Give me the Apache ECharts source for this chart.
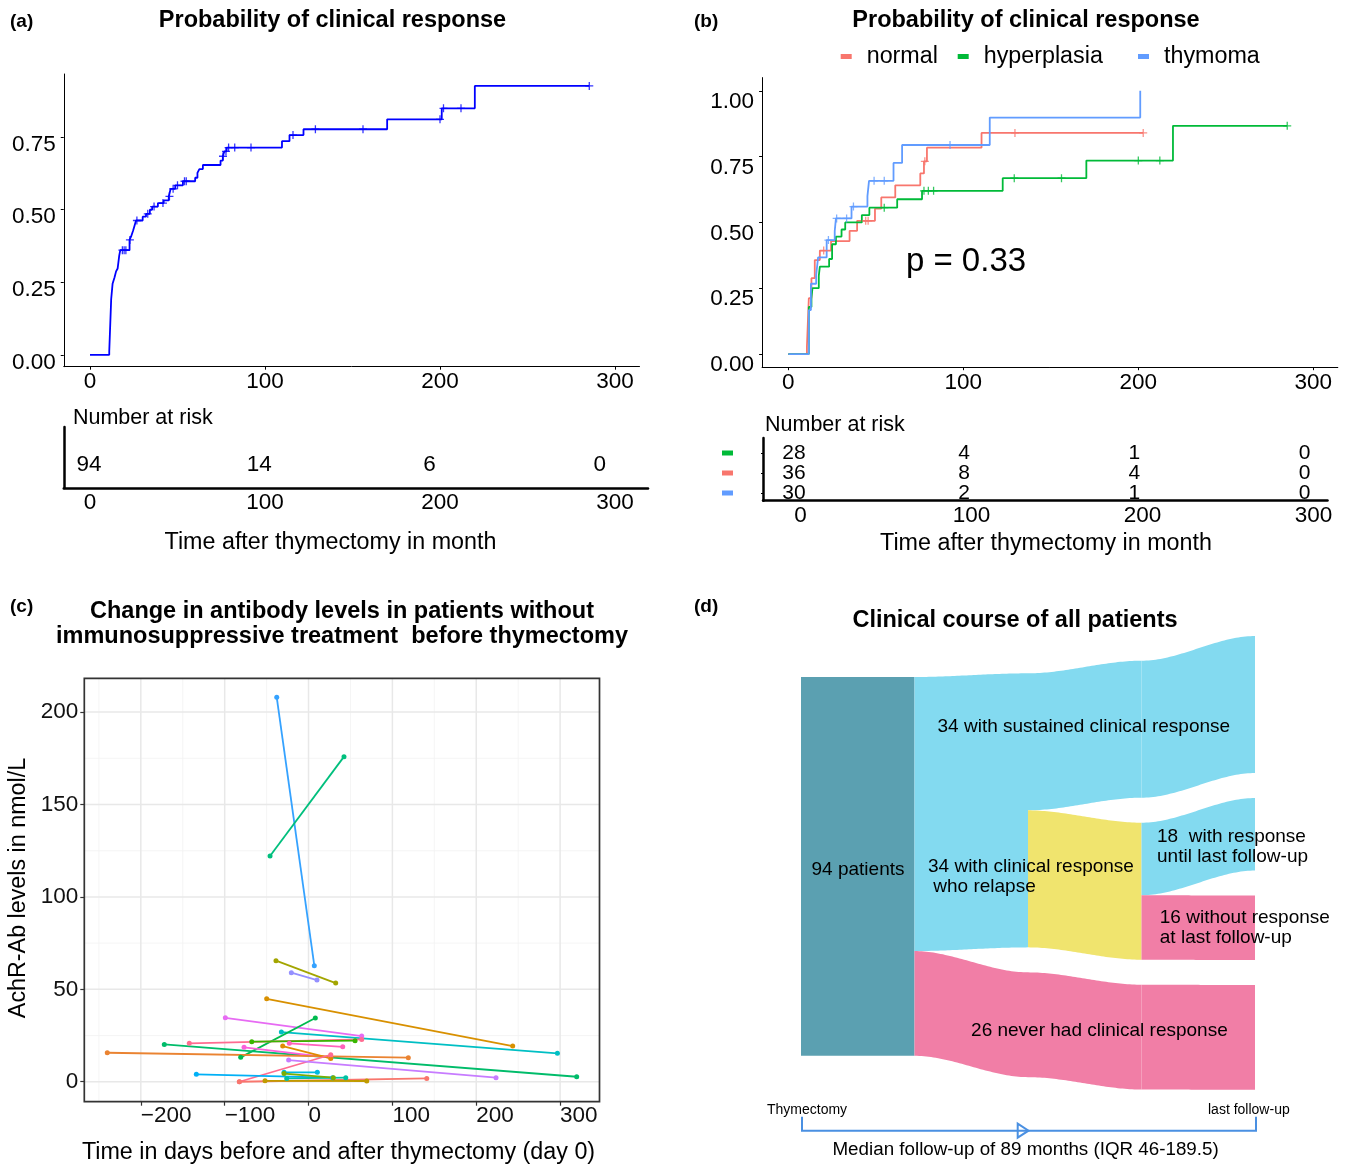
<!DOCTYPE html>
<html><head><meta charset="utf-8">
<script src="https://cdn.jsdelivr.net/npm/echarts@6/dist/echarts.min.js"></script>
<style>html,body{margin:0;padding:0;background:#fff}#c{width:1345px;height:1166px}</style>
</head><body><div id="c"></div>
<script>
// ===================== DATA =====================
// (a) overall Kaplan-Meier curve (time in months, probability of clinical response)
const timeA = [0, 11.0, 12.1, 12.9, 14.0, 14.9, 15.8, 16.7, 17.3, 22.6, 23.5, 24.6, 25.2, 26.3, 30.1, 32.0, 34.2, 35.5, 38.8, 42.1, 45.0, 46.1, 48.7, 53.1, 60.1, 61.4, 62.5, 64.5, 74.6, 75.9, 76.8, 78.1, 109.7, 114.0, 122.0, 169.8, 201.0, 219.9, 285.3];
const survA = [0, 0.011, 0.191, 0.244, 0.266, 0.287, 0.297, 0.341, 0.360, 0.395, 0.407, 0.427, 0.439, 0.462, 0.475, 0.485, 0.499, 0.510, 0.522, 0.531, 0.545, 0.571, 0.583, 0.597, 0.609, 0.626, 0.639, 0.653, 0.668, 0.683, 0.700, 0.713, 0.735, 0.756, 0.776, 0.810, 0.848, 0.925, 0.925];
const censorA = [18.5, 19.5, 20.5, 22.8, 26.8, 33.0, 36.6, 41.7, 45.4, 47.5, 50.0, 54.0, 55.0, 76.0, 77.7, 79.2, 82.7, 92.0, 116.0, 128.8, 156.0, 200.0, 202.0, 212.0, 285.3];
const riskTimes = [0, 100, 200, 300];
const riskA = [94, 14, 6, 0];

// (b) by thymus histology
const groupsB = ['normal', 'hyperplasia', 'thymoma'];
const timeN = [0, 10.6, 11.7, 13.2, 15.1, 18.0, 24.4, 35.0, 39.3, 49.5, 53.1, 61.1, 75.4, 77.5, 79.2, 110.4, 202.8];
const survN = [0, 0.028, 0.212, 0.288, 0.357, 0.393, 0.429, 0.468, 0.506, 0.552, 0.595, 0.641, 0.686, 0.732, 0.784, 0.840, 0.840];
const censorN = [20.2, 44.2, 45.6, 78.0, 129.5, 202.8];
const timeH = [0, 11.7, 13.2, 13.8, 17.4, 18.0, 23.3, 25.0, 27.2, 30.4, 32.5, 42.0, 46.3, 62.2, 76.4, 122.5, 170.3, 219.8, 285.1];
const survH = [0, 0.179, 0.214, 0.250, 0.297, 0.332, 0.361, 0.417, 0.446, 0.473, 0.500, 0.528, 0.556, 0.588, 0.620, 0.668, 0.735, 0.867, 0.867];
const censorH = [54.8, 77.5, 80.0, 83.0, 129.1, 156.1, 200.0, 212.3, 285.1];
const timeT = [0, 11.7, 12.9, 15.9, 17.0, 21.9, 26.5, 27.2, 36.1, 45.2, 46.1, 60.1, 65.0, 115.1, 201.1];
const survT = [0, 0.167, 0.267, 0.300, 0.367, 0.433, 0.467, 0.515, 0.560, 0.600, 0.658, 0.726, 0.794, 0.898, 1.000];
const censorT = [22.9, 27.6, 33.3, 37.2, 49.0, 54.8, 92.4];
const riskHyper = [28, 4, 1, 0];
const riskNormal = [36, 8, 4, 0];
const riskThym = [30, 2, 1, 0];
const pValueText = 'p = 0.33';

// (c) antibody levels before / after thymectomy (one pair per patient)
const abDayBefore   = [-37.9, -45.9, -38.8, -20.5, -49.9, -99.2, -32.4, -80.9, -172.0, -142.2, -67.7, -22.9, -76.9, -240.0, -30.8, -82.5, -23.7, -133.8, -29.2, -26.0, -82.5, -51.9, -29.2];
const abLevelBefore = [208.0, 122.1, 65.5, 59.0, 44.9, 34.6, 26.9, 13.2, 20.2, 20.8, 21.7, 20.8, 18.6, 15.7, 19.3, 0.0, 11.7, 4.0, 5.1, 1.8, 0.0, 0.5, 4.4];
const abDayAfter    = [6.9, 42.3, 32.4, 10.1, 243.5, 63.4, 296.8, 8.1, 319.8, 63.4, 55.5, 40.8, 26.5, 119.0, 26.5, 26.5, 223.6, 28.8, 10.5, 44.4, 141.0, 69.4, 29.6];
const abLevelAfter  = [62.8, 175.9, 53.4, 55.0, 19.3, 24.7, 15.4, 34.5, 2.7, 22.9, 22.2, 18.9, 13.0, 13.0, 12.6, 14.6, 2.2, 2.2, 5.1, 2.2, 1.8, 0.4, 2.2];

// (d) clinical course
const sankeyTotal = 94;
const leafCounts = [34, 18, 16, 26];
const stageGapAfter = [[0,0,0],[0,0,1],[1,0,1],[1,1,1]];
const flowKinds = [['resp','resp','resp','none'],['resp','relapse','relapse','none'],['resp','resp','none','none']];

// tick values
const xTicksKM = [0, 100, 200, 300];
const yTicksA = [0, 0.25, 0.5, 0.75];
const yTicksB = [0, 0.25, 0.5, 0.75, 1];
const xTicksC = [-200, -100, 0, 100, 200, 300];
const xMinorC = [-250, -150, -50, 50, 150, 250];
const yTicksC = [0, 50, 100, 150, 200];
const yMinorC = [25, 75, 125, 175];

// ===================== STYLE / LAYOUT =====================
const F = '"Liberation Sans", Arial, Helvetica, sans-serif';
const colB = {normal: '#F8766D', hyperplasia: '#00BA38', thymoma: '#619CFF'};
const abColors = ['#35A2FF','#00BF7D','#A3A500','#9590FF','#D89000','#E76BF3','#00BFC4','#00BB4E','#00BC6A','#FF6C91','#39B600','#FF62BC','#FA62DB','#EA8331','#E08B00','#FF6C91','#C77CFF','#00B0F6','#00BAE0','#00C1A3','#F8766D','#C09B00','#7CAE00'];
const sankeyColors = {start: '#5BA0B1', resp: '#83DAF0', relapse: '#F0E46E', none: '#F17EA6'};
const sankeyLayout = {stageX: [1, 2, 3, 4], stageTop: [10.17, 9.26, 6.13, 0], gap: 6.2};
const PLUS = 'path://M0,4.2H10V5.8H0Z M4.2,0H5.8V10H4.2Z';
const cXExt = [-267.4, 347], cYExt = [-10.8, 218.3];
const yExtA = [-0.041, 0.966], yExtB = [-0.05, 1.05];
// tick labels of (a)/(b) sit slightly below their ticks in the reference (value-unit shift)
const labelShiftA = 0.026, labelShiftB = 0.042;

function stepAt(times, surv, t) { let v = surv[0]; for (let i = 0; i < times.length; i++) if (times[i] <= t) v = surv[i]; return v; }

// ---- sankey geometry in (stage, patient) units
const stageIntervals = sankeyLayout.stageTop.map((top, s) => {
  let y = top; const iv = [];
  leafCounts.forEach((n, i) => { iv.push([y, y + n]); y += n + (i < leafCounts.length - 1 && stageGapAfter[s][i] ? sankeyLayout.gap : 0); });
  return iv;
});
const ribbons = [{kind: 'rect', x0: 0, x1: 1, top0: stageIntervals[0][0][0], bot0: stageIntervals[0][3][1], color: sankeyColors.start}];
for (let s = 0; s < 3; s++) {
  let i = 0;
  while (i < leafCounts.length) {
    let j = i;
    while (j + 1 < leafCounts.length && flowKinds[s][j + 1] === flowKinds[s][i] && !stageGapAfter[s][j] && !stageGapAfter[s + 1][j]) j++;
    ribbons.push({kind: 'flow', x0: sankeyLayout.stageX[s], x1: sankeyLayout.stageX[s + 1],
      top0: stageIntervals[s][i][0], bot0: stageIntervals[s][j][1],
      top1: stageIntervals[s + 1][i][0], bot1: stageIntervals[s + 1][j][1], color: sankeyColors[flowKinds[s][i]]});
    i = j + 1;
  }
}
const sankeyYMax = sankeyTotal + 3 * sankeyLayout.gap;

function renderRibbon(params, api) {
  const r = ribbons[params.dataIndex];
  if (r.kind === 'rect') {
    const p0 = api.coord([r.x0, r.top0]), p1 = api.coord([r.x1, r.bot0]);
    return {type: 'rect', shape: {x: p0[0], y: p0[1], width: p1[0] - p0[0], height: p1[1] - p0[1]}, style: {fill: r.color}};
  }
  const N = 48, pts = [];
  for (let k = 0; k <= N; k++) { const t = k / N, e = t * t * (3 - 2 * t); pts.push(api.coord([r.x0 + (r.x1 - r.x0) * t, r.top0 + (r.top1 - r.top0) * e])); }
  for (let k = N; k >= 0; k--) { const t = k / N, e = t * t * (3 - 2 * t); pts.push(api.coord([r.x0 + (r.x1 - r.x0) * t, r.bot0 + (r.bot1 - r.bot0) * e])); }
  return {type: 'polygon', shape: {points: pts}, style: {fill: r.color}};
}

// ---- helpers
function txt(text, x, y, size, o) {
  o = o || {};
  const st = {text: text, fontSize: size, fontFamily: F, fontWeight: o.bold ? 'bold' : 'normal', fill: o.color || '#000',
    align: o.align || 'center', verticalAlign: 'middle'};
  if (o.lh) st.lineHeight = o.lh;
  return {type: 'text', x: x, y: y, rotation: o.rot || 0, z: 100, silent: true, style: st};
}
const axLine = (w) => ({show: true, onZero: false, lineStyle: {color: '#000', width: w}});
const tickLbl = (vals, margin, extra) => Object.assign({customValues: vals, fontSize: 22.5, fontFamily: F, color: '#000', margin: margin}, extra || {});

function kmLine(name, times, surv, color, xi, yi) {
  return {name: name, type: 'line', xAxisIndex: xi, yAxisIndex: yi, step: 'end', symbol: 'none', showSymbol: false,
    data: times.map((t, i) => [t, surv[i]]), lineStyle: {color: color, width: 1.8}, itemStyle: {color: color}, z: 3};
}
function censorSeries(name, times, surv, cens, color, xi, yi) {
  return {name: name, type: 'scatter', xAxisIndex: xi, yAxisIndex: yi, symbol: PLUS, symbolSize: 8,
    data: cens.map(t => [t, stepAt(times, surv, t)]), itemStyle: {color: color}, z: 4};
}
function riskSeries(xi, yi, row, counts, size) {
  return {type: 'scatter', xAxisIndex: xi, yAxisIndex: yi, symbolSize: 0.001, itemStyle: {color: '#000', opacity: 1},
    label: {show: true, position: 'inside', formatter: p => String(p.value[2]), fontSize: size, fontFamily: F,
      color: '#000', textBorderWidth: 0, textBorderColor: 'transparent', opacity: 1},
    data: riskTimes.map((t, i) => [t, row, counts[i]])};
}
function gridLineSeries(values, dir, color, width) {
  return {type: 'custom', xAxisIndex: 6, yAxisIndex: 4, silent: true, z: 1, clip: false,
    data: values.map(v => (dir === 'x' ? [v, 0] : [0, v])),
    renderItem: (params, api) => {
      const v = values[params.dataIndex];
      const p0 = dir === 'x' ? api.coord([v, cYExt[0]]) : api.coord([cXExt[0], v]);
      const p1 = dir === 'x' ? api.coord([v, cYExt[1]]) : api.coord([cXExt[1], v]);
      return {type: 'line', shape: {x1: p0[0], y1: p0[1], x2: p1[0], y2: p1[1]}, style: {stroke: color, lineWidth: width}};
    }};
}

// ===================== OPTION =====================
const series = [];
series.push(gridLineSeries(xMinorC, 'x', '#F2F2F2', 0.8));
series.push(gridLineSeries(yMinorC, 'y', '#F2F2F2', 0.8));
series.push(gridLineSeries(xTicksC, 'x', '#E8E8E8', 1.5));
series.push(gridLineSeries(yTicksC, 'y', '#E8E8E8', 1.5));

series.push(kmLine('all', timeA, survA, '#0000FF', 0, 0));
series.push(censorSeries('all-c', timeA, survA, censorA, '#0000FF', 0, 0));
series.push(riskSeries(2, 1, 1, riskA, 22.5));

const bData = {normal: [timeN, survN, censorN], hyperplasia: [timeH, survH, censorH], thymoma: [timeT, survT, censorT]};
groupsB.forEach(g => {
  series.push(kmLine(g, bData[g][0], bData[g][1], colB[g], 3, 2));
  series.push(censorSeries(g + '-c', bData[g][0], bData[g][1], bData[g][2], colB[g], 3, 2));
});
series.push(riskSeries(5, 3, 3, riskHyper, 21));
series.push(riskSeries(5, 3, 2, riskNormal, 21));
series.push(riskSeries(5, 3, 1, riskThym, 21));

abDayBefore.forEach((d, i) => {
  series.push({type: 'line', xAxisIndex: 6, yAxisIndex: 4, symbol: 'circle', symbolSize: 5, showSymbol: true,
    data: [[d, abLevelBefore[i]], [abDayAfter[i], abLevelAfter[i]]],
    lineStyle: {color: abColors[i], width: 1.8}, itemStyle: {color: abColors[i]}, z: 3});
});

series.push({type: 'custom', xAxisIndex: 7, yAxisIndex: 5, renderItem: renderRibbon, clip: false,
  data: ribbons.map((r, i) => [r.x0, r.top0, i]), silent: true, z: 2});

const option = {
  animation: false,
  backgroundColor: '#fff',
  textStyle: {fontFamily: F},
  grid: [
    {left: 63.75, top: 74, width: 575.75, height: 292.7},
    {left: 63.75, top: 427, width: 584.25, height: 61},
    {left: 762.1, top: 77.6, width: 575.7, height: 289.6},
    {left: 763, top: 438, width: 564.5, height: 62.7},
    {left: 84.3, top: 678.3, width: 515.2, height: 423.4, show: true, borderColor: '#333', borderWidth: 1.7, backgroundColor: 'rgba(0,0,0,0)', z: 5},
    {left: 801, top: 636, width: 454, height: 453.8}
  ],
  xAxis: [
    {gridIndex: 0, type: 'value', min: -15, max: 314, axisLine: axLine(1), axisTick: {show: true, customValues: xTicksKM, length: 3, lineStyle: {color: '#000'}}, axisLabel: tickLbl(xTicksKM, 4), splitLine: {show: false}},
    {gridIndex: 1, type: 'value', min: -15, max: 318.9, axisLine: axLine(2.5), axisTick: {show: false, customValues: xTicksKM}, axisLabel: tickLbl(xTicksKM, 3), splitLine: {show: false}},
    {gridIndex: 1, type: 'value', min: -14.8, max: 328.4, show: false},
    {gridIndex: 2, type: 'value', min: -15, max: 314, axisLine: axLine(1), axisTick: {show: true, customValues: xTicksKM, length: 3, lineStyle: {color: '#000'}}, axisLabel: tickLbl(xTicksKM, 4), splitLine: {show: false}},
    {gridIndex: 3, type: 'value', min: -21.9, max: 308.2, axisLine: axLine(2.5), axisTick: {show: false, customValues: xTicksKM}, axisLabel: tickLbl(xTicksKM, 4), splitLine: {show: false}},
    {gridIndex: 3, type: 'value', min: -18.2, max: 313.5, show: false},
    {gridIndex: 4, type: 'value', min: cXExt[0], max: cXExt[1], axisLine: {show: false, onZero: false},
      axisTick: {show: true, customValues: xTicksC, length: 4, lineStyle: {color: '#333', width: 1.2}},
      axisLabel: tickLbl(xTicksC, 3, {align: 'left', color: '#111', formatter: v => (v < 0 ? '\u2212' + Math.abs(v) : String(v))}),
      splitLine: {show: false}},
    {gridIndex: 5, type: 'value', min: 0, max: 4, show: false}
  ],
  yAxis: [
    {gridIndex: 0, type: 'value', min: yExtA[0], max: yExtA[1], axisLine: axLine(1), axisTick: {show: true, customValues: yTicksA, length: 3, lineStyle: {color: '#000'}},
      axisLabel: {show: false, customValues: yTicksA}, splitLine: {show: false}},
    {gridIndex: 1, type: 'value', min: -0.15, max: 2.9, axisLine: axLine(2.5), axisTick: {show: false}, axisLabel: {show: false}, splitLine: {show: false}},
    {gridIndex: 2, type: 'value', min: yExtB[0], max: yExtB[1], axisLine: axLine(1), axisTick: {show: true, customValues: yTicksB, length: 3, lineStyle: {color: '#000'}},
      axisLabel: {show: false, customValues: yTicksB}, splitLine: {show: false}},
    {gridIndex: 3, type: 'value', min: 0.615, max: 3.75, axisLine: axLine(2.5), axisTick: {show: true, customValues: [1, 2, 3], length: 2, lineStyle: {color: '#000'}},
      axisLabel: {customValues: [1, 2, 3], margin: 30, formatter: v => (v === 1 ? '{t| }' : v === 2 ? '{n| }' : '{h| }'),
        rich: {t: {backgroundColor: colB.thymoma, width: 11, height: 5, lineHeight: 5, fontSize: 4},
               n: {backgroundColor: colB.normal, width: 11, height: 5, lineHeight: 5, fontSize: 4},
               h: {backgroundColor: colB.hyperplasia, width: 11, height: 5, lineHeight: 5, fontSize: 4}}},
      splitLine: {show: false}},
    {gridIndex: 4, type: 'value', min: cYExt[0], max: cYExt[1], axisLine: {show: false, onZero: false},
      axisTick: {show: true, customValues: yTicksC, length: 4, lineStyle: {color: '#333', width: 1.2}},
      axisLabel: tickLbl(yTicksC, 6, {color: '#111'}),
      splitLine: {show: false}},
    {gridIndex: 5, type: 'value', min: 0, max: sankeyYMax, inverse: true, show: false},
    // label-only axes for (a) and (b)
    {gridIndex: 0, type: 'value', position: 'left', offset: 0, min: yExtA[0] + labelShiftA, max: yExtA[1] + labelShiftA,
      axisLine: {show: false, onZero: false}, axisTick: {show: false, customValues: yTicksA},
      axisLabel: tickLbl(yTicksA, 8, {formatter: v => v.toFixed(2)}), splitLine: {show: false}},
    {gridIndex: 2, type: 'value', position: 'left', offset: 0, min: yExtB[0] + labelShiftB, max: yExtB[1] + labelShiftB,
      axisLine: {show: false, onZero: false}, axisTick: {show: false, customValues: yTicksB},
      axisLabel: tickLbl(yTicksB, 8, {formatter: v => v.toFixed(2)}), splitLine: {show: false}}
  ],
  legend: groupsB.map((g, i) => ({
    data: [{name: g, icon: 'rect'}], left: [840.7, 957.7, 1138][i], top: 45, padding: 0,
    itemWidth: 11, itemHeight: 5, selectedMode: false,
    textStyle: {fontSize: 23.3, fontFamily: F, color: '#000', padding: [0, 0, 0, 10]}
  })),
  series: series,
  graphic: {elements: [
    txt('(a)', 10, 22, 19, {bold: true, align: 'left'}),
    txt('(b)', 694, 22, 19, {bold: true, align: 'left'}),
    txt('(c)', 10, 607, 19, {bold: true, align: 'left'}),
    txt('(d)', 694, 607, 19, {bold: true, align: 'left'}),
    txt('Probability of clinical response', 332.5, 21, 23.5, {bold: true}),
    txt('Probability of clinical response', 1026, 21, 23.5, {bold: true}),
    txt('Change in antibody levels in patients without\nimmunosuppressive treatment  before thymectomy', 342, 624.5, 23.5, {bold: true, lh: 25}),
    txt('Clinical course of all patients', 1015, 621, 23.5, {bold: true}),
    txt('Number at risk', 72.9, 418, 21.5, {align: 'left'}),
    txt('Number at risk', 765, 425, 21.5, {align: 'left'}),
    txt('Time after thymectomy in month', 330.5, 543, 23.3),
    txt('Time after thymectomy in month', 1046, 544, 23.3),
    txt(pValueText, 966, 262, 33),
    txt('Time in days before and after thymectomy (day 0)', 338.5, 1153, 23.3),
    txt('AchR-Ab levels in nmol/L', 19, 888, 23.3, {rot: Math.PI / 2}),
    txt('94 patients', 858, 870, 19),
    txt('34 with sustained clinical response', 1083.8, 727, 19),
    txt('34 with clinical response\n who relapse', 928, 877, 19, {align: 'left', lh: 19.5}),
    txt('18  with response\nuntil last follow-up', 1157, 846.7, 19, {align: 'left', lh: 20}),
    txt('16 without response\nat last follow-up', 1159.8, 927.7, 19, {align: 'left', lh: 20}),
    txt('26 never had clinical response', 1099.4, 1030.7, 19),
    txt('Thymectomy', 767, 1110, 14, {align: 'left'}),
    txt('last follow-up', 1289.7, 1110, 14, {align: 'right'}),
    txt('Median follow-up of 89 months (IQR 46-189.5)', 1025.6, 1150, 18.8),
    {type: 'polyline', z: 100, silent: true, shape: {points: [[802, 1116.7], [802, 1130.7], [1256, 1130.7], [1256, 1116.7]]}, style: {stroke: '#4A90E2', lineWidth: 2, fill: null}},
    {type: 'polygon', z: 100, silent: true, shape: {points: [[1017.7, 1123.7], [1028.5, 1130.7], [1017.7, 1137.7]]}, style: {stroke: '#4A90E2', lineWidth: 2, fill: null}}
  ]}
};

const chart = echarts.init(document.getElementById('c'), null, {renderer: 'canvas', width: 1345, height: 1166});
chart.setOption(option);
</script></body></html>
